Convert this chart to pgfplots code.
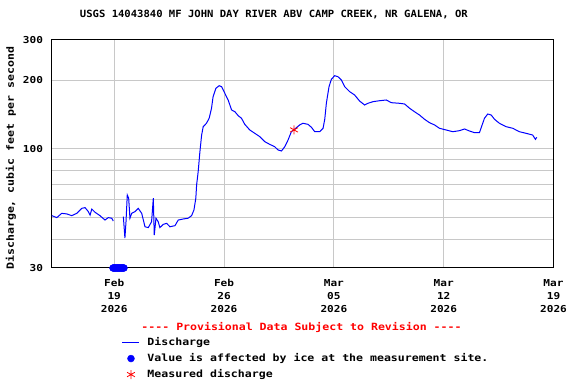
\documentclass[border=0pt]{standalone}
\usepackage{pgfplots}
\pgfplotsset{compat=1.18}
\usepackage{pgfplotstable}
\usepackage{fontspec}
\newfontfamily\usgs{DejaVu Sans Mono}[FakeStretch=1.16]
\newfontfamily\usgsT{DejaVu Sans Mono}[FakeStretch=1.06]
\definecolor{usgsblue}{RGB}{0,0,255}
\definecolor{usgsred}{RGB}{255,0,0}
\definecolor{gridgray}{RGB}{200,200,200}
\pgfplotstableread{
d q
-3.98 50.9
-3.66 49.9
-3.35 52.1
-3.03 51.8
-2.71 50.9
-2.39 52.1
-2.07 54.8
-1.86 55.2
-1.65 53.0
-1.54 51.2
-1.43 54.4
-1.23 52.7
-0.91 50.9
-0.59 48.7
-0.38 49.9
-0.16 49.6
-0.06 48.2
0.20 nan
0.58 50.4
0.68 40.6
0.75 47.9
0.83 62.7
0.92 60.7
1.00 49.6
1.11 52.1
1.32 53.0
1.53 54.8
1.75 52.1
1.96 45.5
2.17 45.1
2.38 47.9
2.49 60.7
2.55 41.8
2.66 49.6
2.80 47.9
2.91 45.1
3.12 46.6
3.34 47.1
3.55 45.5
3.87 46.0
4.08 48.7
4.39 49.2
4.71 49.6
4.93 50.9
5.08 53.9
5.20 60.7
5.25 69.4
5.35 79.4
5.46 97.1
5.57 114.9
5.67 125.0
5.88 129.4
6.05 136.1
6.20 150.5
6.30 169.2
6.48 184.2
6.69 189.1
6.84 187.2
7.05 175.1
7.26 163.7
7.48 148.0
7.69 145.4
7.90 139.7
8.11 136.1
8.32 128.0
8.64 120.9
8.96 116.9
9.28 113.0
9.60 107.4
9.91 104.6
10.23 102.1
10.44 98.8
10.66 97.8
10.87 102.1
11.08 109.3
11.29 118.8
11.51 122.1
11.82 127.2
12.03 129.4
12.35 128.0
12.57 124.2
12.78 118.8
13.10 118.8
13.31 123.0
13.42 135.0
13.52 158.3
13.69 187.2
13.84 201.7
14.05 209.2
14.26 207.1
14.48 200.3
14.69 187.2
15.01 178.0
15.32 172.2
15.64 162.0
15.96 155.6
16.17 158.3
16.49 160.9
16.92 162.5
17.34 163.7
17.66 159.3
18.19 158.3
18.51 157.2
18.83 150.5
19.14 145.4
19.46 140.6
19.78 134.7
20.10 130.1
20.42 127.2
20.73 123.0
21.16 120.9
21.58 118.8
22.01 120.1
22.33 122.1
22.64 119.7
22.96 117.7
23.28 117.7
23.45 127.2
23.60 136.1
23.81 142.1
24.03 140.6
24.24 134.7
24.55 129.4
24.98 125.0
25.40 123.0
25.83 118.8
26.25 116.9
26.67 114.9
26.85 110.0
26.93 112.3
}\discharge
\pgfplotstableread{
d q
-0.08 30
-0.03 30
0.02 30
0.07 30
0.12 30
0.17 30
0.22 30
0.27 30
0.32 30
0.37 30
0.42 30
0.47 30
0.52 30
0.57 30
0.62 30
}\ice
\pgfplotstableread{
d q
11.46 121
}\measured
\begin{document}
\begin{tikzpicture}
\path[use as bounding box] (-51.5bp,-116bp) rectangle (524.5bp,268bp);
\begin{axis}[
  scale only axis, width=502bp, height=228bp,
  xmin=-4, xmax=28, ymin=30, ymax=300, ymode=log,
  clip=false,
  xtick={0,7,14,21,28},
  xticklabels={{Feb\\19\\2026},{Feb\\26\\2026},{Mar\\05\\2026},{Mar\\12\\2026},{Mar\\19\\2026}},
  x tick label style={align=center, font=\usgs\bfseries\fontsize{9.6}{13}\selectfont, yshift=-8bp},
  ytick={30,100,200,300}, yticklabels={30,100,200,300},
  minor ytick={40,50,60,70,80,90},
  y tick label style={font=\usgs\bfseries\fontsize{9.6}{12}\selectfont, xshift=-5bp},
  /pgf/number format/assume math mode=true,
  grid=both,
  major grid style={gridgray, line width=1bp},
  minor grid style={gridgray, line width=1bp},
  major tick length=0pt, minor tick length=0pt,
  axis line style={black, line width=1bp},
  title={USGS 14043840 MF JOHN DAY RIVER ABV CAMP CREEK, NR GALENA, OR},
  title style={font=\usgsT\bfseries\fontsize{10}{12}\selectfont, at={(axis description cs:0.443,1.0855)}, anchor=center},
  ylabel={Discharge, cubic feet per second},
  ylabel style={font=\usgs\bfseries\fontsize{10}{12}\selectfont, at={(axis description cs:-0.0807,0.481)}, anchor=center, rotate=0},
  legend style={at={(axis description cs:0.14,-0.291)}, anchor=north west, draw=none, fill=none,
    inner sep=0pt, font=\usgs\bfseries\fontsize{10}{12}\selectfont,
    nodes={inner sep=2bp, text height=9bp, text depth=3bp}, column sep=5.5bp},
  legend cell align=left,
]
\addplot[usgsblue, line width=1bp, unbounded coords=jump] table[x=d,y=q]{\discharge};
\addlegendentry{Discharge}
\addplot[only marks, mark=*, mark size=3.5bp, usgsblue, mark options={draw=usgsblue, fill=usgsblue}] table[x=d,y=q]{\ice};
\addlegendentry{Value is affected by ice at the measurement site.}
\addplot[only marks, mark=asterisk, mark size=4.5bp, usgsred, mark options={line width=0.8bp}] table[x=d,y=q]{\measured};
\addlegendentry{Measured discharge}
\node[font=\usgs\bfseries\fontsize{10}{12}\selectfont, text=usgsred, anchor=center] at (axis description cs:0.498,-0.262) {---- Provisional Data Subject to Revision ----};
\end{axis}
\end{tikzpicture}
\end{document}
